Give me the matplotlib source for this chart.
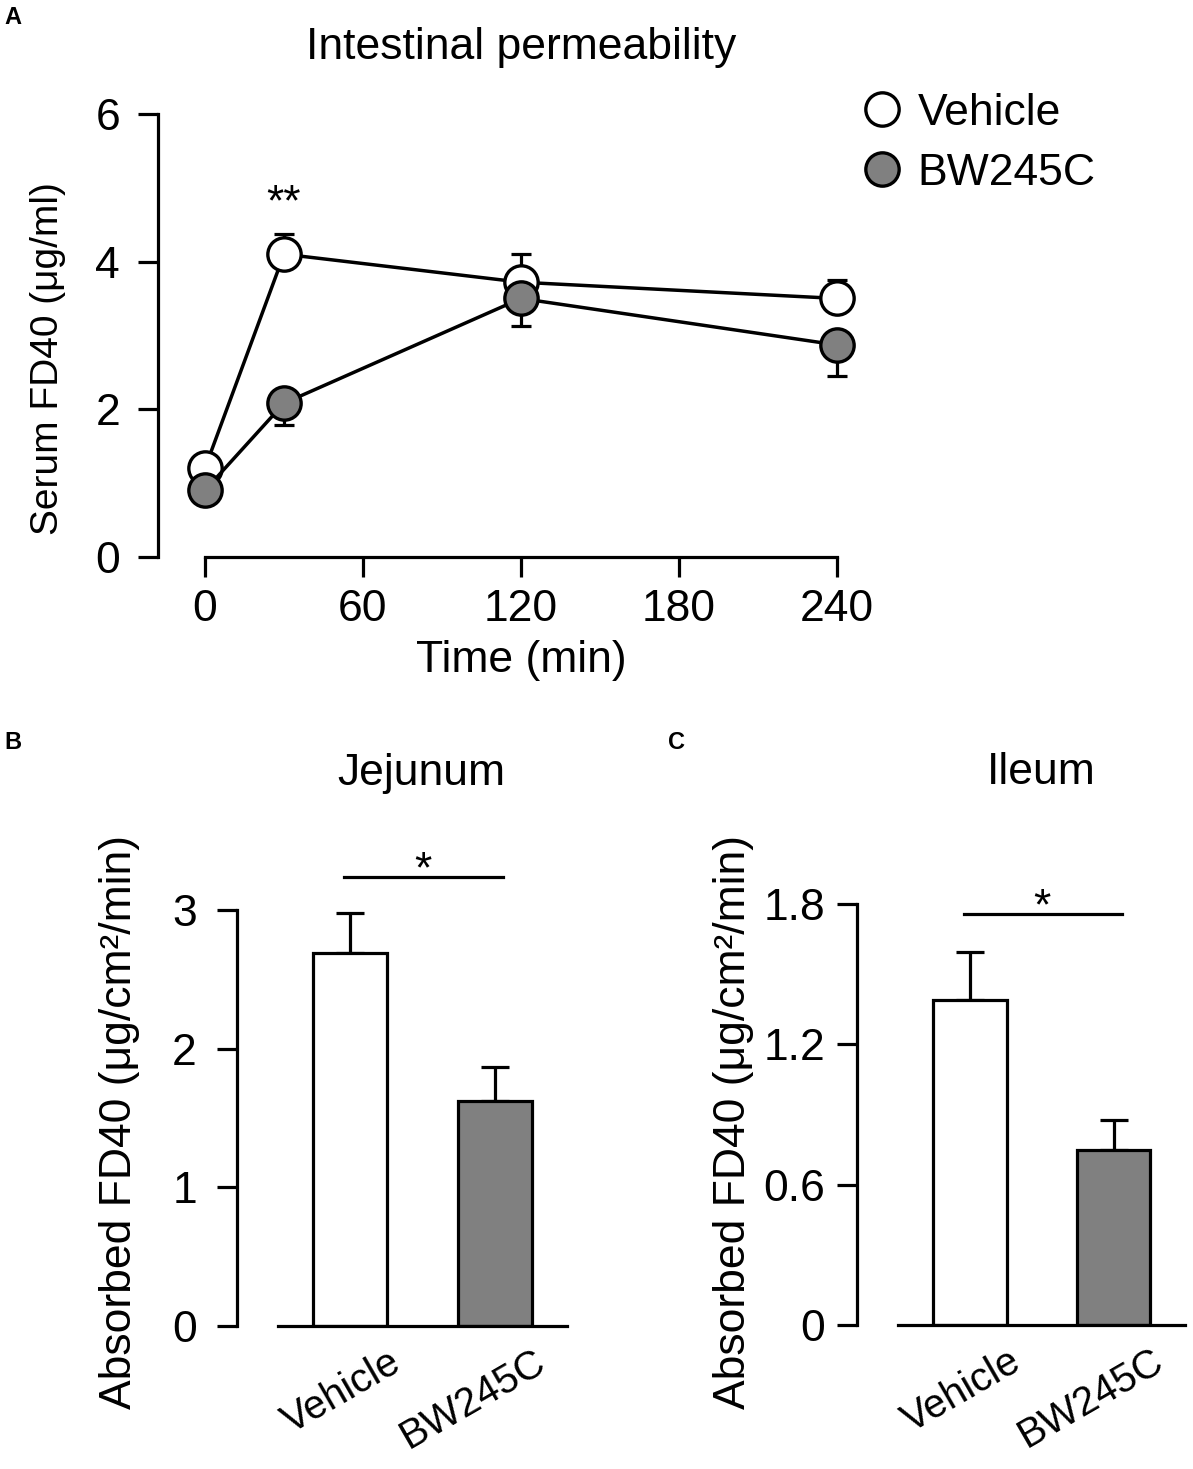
import matplotlib
matplotlib.use("Agg")
import matplotlib.pyplot as plt
import numpy as np
from matplotlib.transforms import ScaledTranslation

plt.rcParams['font.family'] = ['Liberation Sans', 'DejaVu Sans']

# ---------------- data ----------------
time_min = [0, 30, 120, 240]
vehicle_mean = [1.2, 4.1, 3.72, 3.5]
vehicle_sem = [0.05, 0.28, 0.38, 0.25]
bw_mean = [0.9, 2.08, 3.5, 2.87]
bw_sem = [0.05, 0.3, 0.37, 0.42]
a_xticks = [0, 60, 120, 180, 240]
a_yticks = [0, 2, 4, 6]

groups = ["Vehicle", "BW245C"]
jejunum_mean = [2.69, 1.62]
jejunum_sem = [0.29, 0.25]
ileum_mean = [1.39, 0.75]
ileum_sem = [0.205, 0.125]
b_yticks = [0, 1, 2, 3]
c_yticks = [0, 0.6, 1.2, 1.8]
c_yticklabels = ["0", "0.6", "1.2", "1.8"]

W, H = 1193, 1469
DPI = 100
fig = plt.figure(figsize=(W / DPI, H / DPI), dpi=DPI)

def px2pt(p):
    return p * 72.0 / DPI

LW = 2.3
GREY = '#808080'
FS = 32

def fx(x):
    return x / W

def fy(y):
    return 1 - y / H

# ---------------- panel A ----------------
axA = fig.add_axes([fx(205), fy(556.7), fx(837) - fx(205), fy(114) - fy(556.7)])
axA.set_xlim(0, 240)
axA.set_ylim(0, 6)
for s in ['top', 'right']:
    axA.spines[s].set_visible(False)
axA.spines['left'].set_position(('outward', px2pt(47)))
axA.spines['left'].set_bounds(0, 6)
axA.spines['bottom'].set_bounds(0, 240)
for s in ['left', 'bottom']:
    axA.spines[s].set_linewidth(LW)
axA.set_xticks(a_xticks)
axA.set_yticks(a_yticks)
axA.tick_params(axis='both', length=px2pt(20), width=LW, labelsize=FS)
axA.tick_params(axis='y', pad=px2pt(18))
axA.tick_params(axis='x', pad=px2pt(12))

ms = 24
axA.errorbar(time_min, vehicle_mean, yerr=[np.zeros(len(vehicle_sem)), vehicle_sem],
             fmt='none', ecolor='black', elinewidth=LW, capsize=px2pt(10), capthick=LW,
             clip_on=False, zorder=2)
axA.plot(time_min, vehicle_mean, '-o', color='black', lw=2.5, ms=ms, mfc='white',
         mec='black', mew=2.4, clip_on=False, zorder=3, label='Vehicle')
axA.errorbar(time_min, bw_mean, yerr=[bw_sem, np.zeros(len(bw_sem))],
             fmt='none', ecolor='black', elinewidth=LW, capsize=px2pt(10), capthick=LW,
             clip_on=False, zorder=4)
axA.plot(time_min, bw_mean, '-o', color='black', lw=2.5, ms=ms, mfc=GREY,
         mec='black', mew=2.4, clip_on=False, zorder=5, label='BW245C')

axA.text(30, 4.62, '**', ha='center', va='baseline', fontsize=FS)
axA.set_xlabel('Time (min)', fontsize=FS, labelpad=px2pt(10))

leg = axA.legend(loc='upper left', bbox_to_anchor=(fx(861), fy(93)),
                 bbox_transform=fig.transFigure, frameon=False, fontsize=FS,
                 handlelength=0.95, handletextpad=0.32, labelspacing=0.42,
                 borderpad=0, borderaxespad=0, numpoints=1)
for h in leg.legend_handles:
    h.set_linestyle('none')

fig.text(fx(521), fy(48), 'Intestinal permeability', ha='center', va='center', fontsize=FS)
fig.text(fx(48), fy(359), 'Serum FD40 (μg/ml)', rotation=90, ha='center', va='center',
         fontsize=28)
fig.text(fx(4), fy(18), 'A', ha='left', va='center', fontsize=17, fontweight='bold')

# ---------------- panels B and C ----------------
def bar_panel(rect, means, sems, yticks, yticklabels, ylim, title, title_x,
              sig_y, star_y, ylabel_x, ypad):
    ax = fig.add_axes(rect)
    x = np.arange(len(groups))
    ax.bar(x, means, width=0.51, color=['white', GREY], edgecolor='black',
           linewidth=LW, zorder=3)
    ax.errorbar(x, means, yerr=[np.zeros(len(sems)), sems], fmt='none', ecolor='black',
                elinewidth=LW, capsize=px2pt(13.5), capthick=LW, zorder=2)
    ax.set_xlim(-0.5, 1.5)
    ax.set_ylim(*ylim)
    for s in ['top', 'right']:
        ax.spines[s].set_visible(False)
    ax.spines['left'].set_position(('outward', px2pt(41)))
    ax.spines['left'].set_bounds(ylim[0], ylim[1])
    for s in ['left', 'bottom']:
        ax.spines[s].set_linewidth(LW)
        ax.spines[s].set_zorder(4)
    ax.set_yticks(yticks)
    ax.set_yticklabels(yticklabels)
    ax.tick_params(axis='y', length=px2pt(20), width=LW, labelsize=FS, pad=px2pt(ypad))
    ax.set_xticks(x)
    ax.set_xticklabels(groups)
    ax.tick_params(axis='x', length=0, labelsize=29, pad=0)
    for lab in ax.get_xticklabels():
        lab.set_rotation(30)
        lab.set_ha('right')
        lab.set_va('top')
        lab.set_rotation_mode('anchor')
        lab.set_transform(lab.get_transform() +
                          ScaledTranslation(38 / DPI, -17 / DPI, fig.dpi_scale_trans))
    ax.plot([-0.04, 1.06], [sig_y, sig_y], color='black', lw=LW, clip_on=False)
    ax.text(0.5, star_y, '*', ha='center', va='baseline', fontsize=FS)
    fig.text(title_x, fy(773), title, ha='center', va='center', fontsize=FS)
    fig.text(ylabel_x, fy(1122), 'Absorbed FD40 (μg/cm²/min)', rotation=90,
             ha='center', va='center', fontsize=32)
    return ax

axB = bar_panel([fx(278), fy(1325.7), fx(567) - fx(278), fy(910) - fy(1325.7)],
                jejunum_mean, jejunum_sem, b_yticks, [str(v) for v in b_yticks], (0, 3),
                'Jejunum', fx(421), 3.24, 3.2, fx(120), 20)
axC = bar_panel([fx(898.25), fy(1325), fx(1185.25) - fx(898.25), fy(904) - fy(1325)],
                ileum_mean, ileum_sem, c_yticks, c_yticklabels, (0, 1.8),
                'Ileum', fx(1041), 1.757, 1.735, fx(733), 12)

fig.text(fx(4), fy(742), 'B', ha='left', va='center', fontsize=17, fontweight='bold')
fig.text(fx(668), fy(742), 'C', ha='left', va='center', fontsize=17, fontweight='bold')

fig.savefig('out.png', dpi=DPI, facecolor='white')
